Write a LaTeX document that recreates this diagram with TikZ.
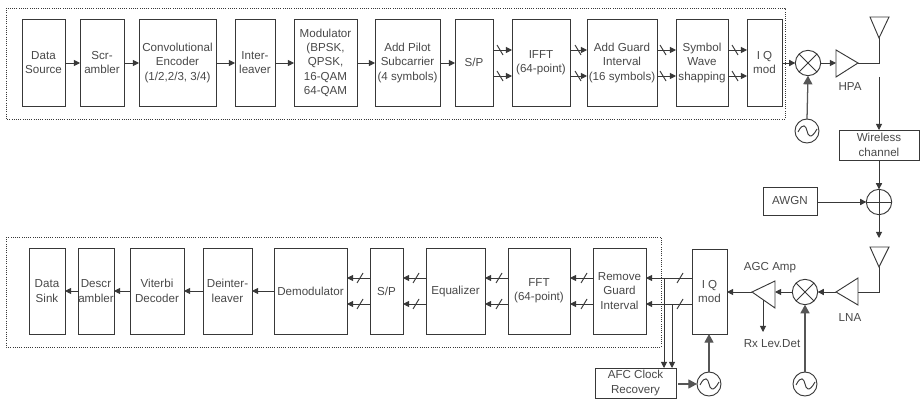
\documentclass[tikz,border=0pt]{standalone}
\usepackage{fontspec}
\setmainfont{Liberation Sans}
\usetikzlibrary{fit,arrows.meta,calc}
\definecolor{ink}{HTML}{383838}
\definecolor{txt}{HTML}{484848}
\tikzset{
  blkbox/.style={draw=ink,line width=.72pt,inner sep=0pt,outer sep=0pt},
  blktext/.style={text=txt,inner sep=0pt,anchor=center,align=center,font=\fontsize{8.7}{10.8}\selectfont},
  lbl/.style={text=txt,inner sep=0pt,font=\fontsize{8.7}{10.8}\selectfont},
  arr/.style={draw=ink,line width=.7pt,-{Triangle[length=4.6pt,width=4.6pt]}},
  bigarr/.style={draw=ink!85,line width=.95pt,-{Triangle[length=6.5pt,width=6.8pt]}},
  wire/.style={draw=ink,line width=.7pt},
  ring/.style={circle,draw=ink,line width=.7pt,inner sep=0pt,outer sep=0pt,minimum size=19pt},
  frame/.style={draw=ink,line width=.65pt,densely dotted},
  tri/.style={draw=ink,line width=.7pt,line join=miter}
}
\newcommand{\blk}[6]{\node[blkbox,fit={(#2,#3)(#4,#5)},label={[blktext]center:{#6}}] (#1) {};}
% bus connector: from, to, level coordinate, slash x offset
\newcommand{\busR}[4]{\draw[arr] (#1.east |- #3) -- (#2.west |- #3);\draw[wire] ($(#1.east |- #3)+(#4,-5)$) -- ++(6,10);}
\newcommand{\busL}[4]{\draw[arr] (#1.west |- #3) -- (#2.east |- #3);\draw[wire] ($(#1.west |- #3)+(#4,5)$) -- ++(6,-10);}
\newcommand{\osc}[1]{\draw[wire] ($(#1)+(-9,1)$) .. controls ($(#1)+(-4,-9)$) and ($(#1)+(-1,-5)$) .. ($(#1)+(0,0)$) .. controls ($(#1)+(1,5)$) and ($(#1)+(4,9)$) .. ($(#1)+(10,-2)$);}
\begin{document}
\begin{tikzpicture}[x=.75pt,y=-.75pt]
\useasboundingbox (0,0) rectangle (920,399);
% frames
\draw[frame] (6,8) rectangle (785,119);
\draw[frame] (6,237) rectangle (661,347);
% levels
\coordinate (tA) at (0,50); \coordinate (tB) at (0,76); \coordinate (tM) at (0,63);
\coordinate (bA) at (0,278); \coordinate (bB) at (0,304); \coordinate (bM) at (0,291);
% transmitter
\blk{src}{22}{19.5}{65}{106}{Data\\Source}
\blk{scr}{80}{19.5}{124}{106}{Scr-\\ambler}
\blk{conv}{139}{19.5}{216}{106}{Convolutional\\Encoder\\(1/2,2/3, 3/4)}
\blk{intl}{235}{19.5}{275}{106}{Inter-\\leaver}
\blk{mod}{294}{19.5}{357}{106}{Modulator\\(BPSK,\\QPSK,\\16-QAM\\64-QAM}
\blk{pilot}{375}{19.5}{440}{106}{Add Pilot\\Subcarrier\\(4 symbols)}
\blk{sp}{455}{19.5}{493}{106}{S/P}
\blk{ifft}{512}{19.5}{570}{106}{IFFT\\(64-point)}
\blk{guard}{587}{19.5}{657}{106}{Add Guard\\Interval\\(16 symbols)}
\blk{wave}{676}{19.5}{728}{106}{Symbol\\Wave\\shapping}
\blk{iqt}{747}{19.5}{782}{106}{I Q\\mod}
\draw[arr] (src.east |- tM) -- (scr.west |- tM);
\draw[arr] (scr.east |- tM) -- (conv.west |- tM);
\draw[arr] (conv.east |- tM) -- (intl.west |- tM);
\draw[arr] (intl.east |- tM) -- (mod.west |- tM);
\draw[arr] (mod.east |- tM) -- (pilot.west |- tM);
\draw[arr] (pilot.east |- tM) -- (sp.west |- tM);
\busR{sp}{ifft}{tA}{4} \busR{sp}{ifft}{tB}{4}
\busR{ifft}{guard}{tA}{5} \busR{ifft}{guard}{tB}{5}
\busR{guard}{wave}{tA}{3} \busR{guard}{wave}{tB}{3}
\busR{wave}{iqt}{tA}{4} \busR{wave}{iqt}{tB}{4}
% RF transmit
\node[ring] (mixt) at (808,63) {};
\draw[wire] (mixt.north west) -- (mixt.south east) (mixt.north east) -- (mixt.south west);
\node[ring,minimum size=18pt] (osct) at (807,131) {};
\osc{osct}
\draw[arr] (iqt.east |- tM) -- (mixt.west);
\draw[bigarr] (osct.north) -- (mixt.south);
\coordinate (hpaw) at (836,63); \coordinate (hpae) at (858,63);
\draw[tri] (836,50) -- (858,63) -- (836,77) -- cycle;
\draw[arr] (mixt.east) -- (hpaw);
\node[lbl] (hpalbl) at (850,87) {HPA};
\coordinate (anttip) at (879,38);
\draw[tri] (870,17) -- (889,17) -- (anttip) -- cycle;
\draw[wire] (hpae) -| (anttip);
% channel
\coordinate (chstart) at (879,77);
\blk{chan}{839}{130}{919}{160}{Wireless\\channel}
\draw[arr] (chstart) -- (chan.north -| chstart);
\node[ring] (sum) at (879,202) {};
\draw[wire] (sum.north) -- (sum.south) (sum.west) -- (sum.east);
\draw[arr] (chan.south -| sum) -- (sum.north);
\blk{awgn}{763}{187}{817}{215}{AWGN}
\draw[arr] (awgn.east |- sum) -- (sum.west);
\coordinate (antr) at (879,267);
\coordinate (antrtop) at (879,238);
\draw[arr] (sum.south) -- (antrtop);
\draw[tri] (870,247) -- (889,247) -- (antr) -- cycle;
% RF receive
\coordinate (lnae) at (858,292); \coordinate (lnaw) at (836,292);
\draw[tri] (858,278) -- (836,292) -- (858,305) -- cycle;
\draw[wire] (antr) |- (lnae);
\node[lbl] (lnalbl) at (850,318) {LNA};
\node[ring] (mixr) at (805,292) {};
\draw[wire] (mixr.north west) -- (mixr.south east) (mixr.north east) -- (mixr.south west);
\draw[arr] (lnaw) -- (mixr.east);
\coordinate (agce) at (775,292); \coordinate (agcw) at (752,292); \coordinate (agcb) at (763,300);
\draw[tri] (775,281) -- (752,292) -- (775,308) -- cycle;
\draw[arr] (mixr.west) -- (agce);
\node[lbl] (agclbl) at (770,268) {AGC Amp};
\coordinate (rxend) at (763,332);
\draw[arr] (agcb) -- (rxend);
\node[lbl] (rxlbl) at (772,344) {Rx Lev.Det};
\node[ring,minimum size=18pt] (oscr) at (805,384) {};
\osc{oscr}
\draw[bigarr] (oscr.north) -- (mixr.south);
% receiver
\blk{iqr}{692}{249}{727}{334}{I Q\\mod}
\draw[arr] (agcw) -- (iqr.east |- agcw);
\blk{remg}{593}{248}{646}{334}{Remove\\Guard\\Interval}
\blk{fft}{508}{248}{570}{334}{FFT\\(64-point)}
\blk{eq}{426}{248}{485}{334}{Equalizer}
\blk{spr}{370}{248}{403}{334}{S/P}
\blk{dem}{274}{248}{347}{334}{Demodulator}
\blk{dint}{203}{248}{252}{334}{Deinter-\\leaver}
\blk{vit}{130}{248}{184}{334}{Viterbi\\Decoder}
\blk{dscr}{78}{248}{114}{334}{Descr\\ambler}
\blk{sink}{29}{248}{65}{334}{Data\\Sink}
\busL{iqr}{remg}{bA}{-15} \busL{iqr}{remg}{bB}{-15}
\busL{remg}{fft}{bA}{-12} \busL{remg}{fft}{bB}{-12}
\busL{fft}{eq}{bA}{-12} \busL{fft}{eq}{bB}{-12}
\busL{eq}{spr}{bA}{-13} \busL{eq}{spr}{bB}{-13}
\busL{spr}{dem}{bA}{-13} \busL{spr}{dem}{bB}{-13}
\draw[arr] (dem.west |- bM) -- (dint.east |- bM);
\draw[arr] (dint.west |- bM) -- (vit.east |- bM);
\draw[arr] (vit.west |- bM) -- (dscr.east |- bM);
\draw[arr] (dscr.west |- bM) -- (sink.east |- bM);
% AFC
\blk{afc}{595}{368}{676}{398}{AFC Clock\\Recovery}
\coordinate (tapA) at (664,278); \coordinate (tapB) at (672,304);
\draw[arr] (tapA) -- (tapA |- afc.north);
\draw[arr] (tapB) -- (tapB |- afc.north);
\node[ring,minimum size=18pt] (osca) at (709,384) {};
\osc{osca}
\draw[bigarr] (osca.north) -- (iqr.south -| osca);
\coordinate (afcout) at (678,384);
\draw[bigarr] (afcout) -- (osca.west);
\end{tikzpicture}
\end{document}
